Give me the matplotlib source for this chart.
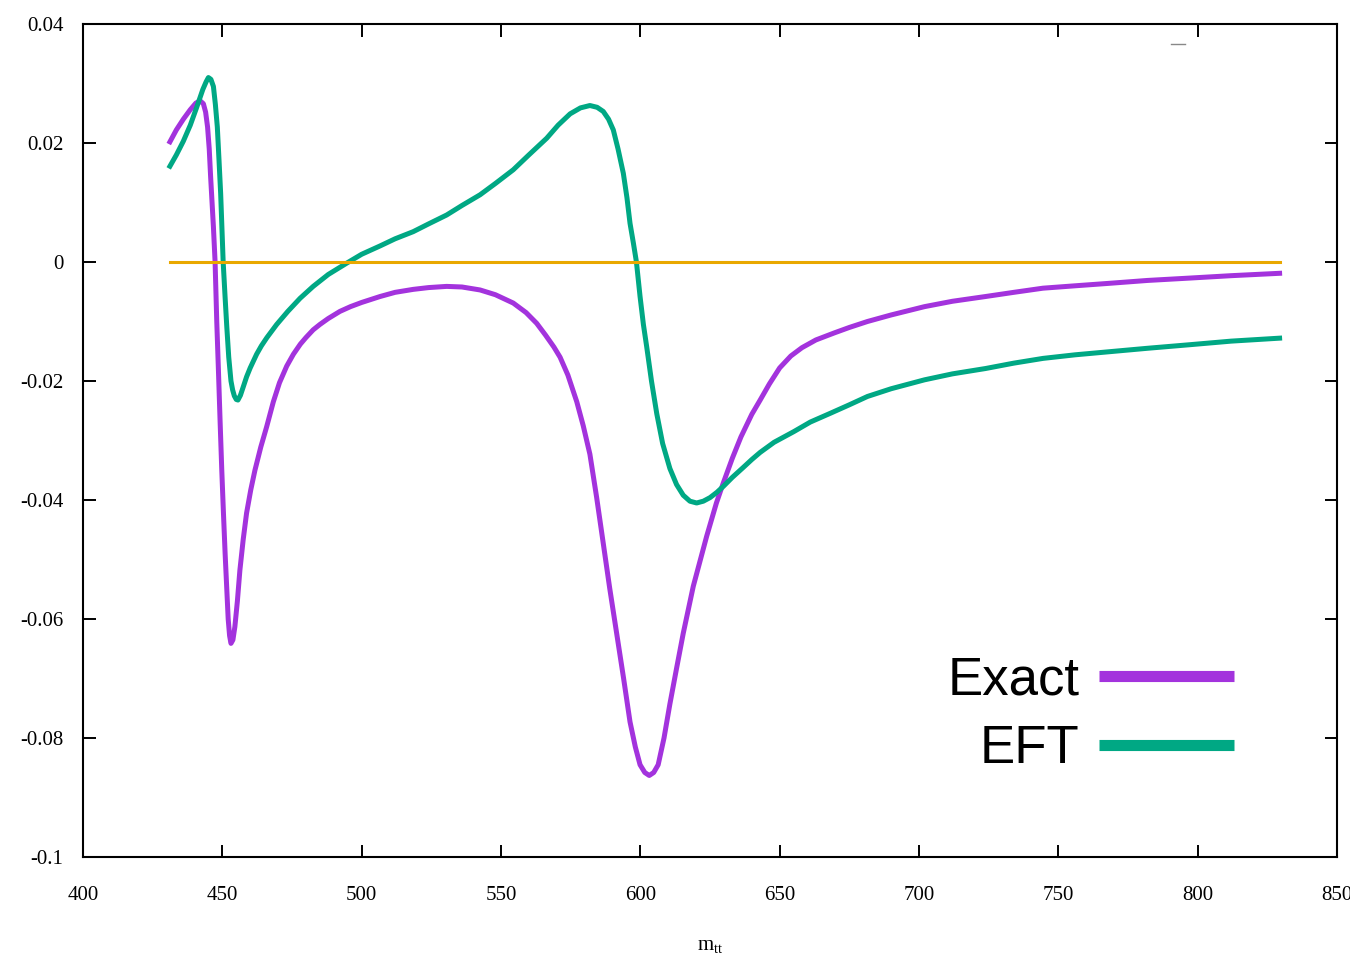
"""
Exact vs EFT interference curves against m_tt, gnuplot-like styling.
"""

import matplotlib

matplotlib.use("Agg")
import matplotlib.pyplot as plt


# values
exact_x = [431.2, 433.5, 436.0, 438.5, 440.5, 442.0, 443.2, 444.0, 444.7, 445.3,
           445.8, 446.8, 447.4, 448.0, 448.6, 449.2, 449.8, 450.4, 451.0, 451.6,
           452.1, 452.6, 453.1, 453.8, 454.5, 455.4, 456.3, 457.5, 458.7, 460.2,
           461.7, 463.8, 465.9, 468.3, 470.5, 473.1, 475.5, 478.0, 480.0, 482.6,
           485.0, 488.0, 492.2, 496.0, 500.0, 506.6, 512.0, 518.5, 524.0, 530.5,
           536.0, 542.5, 548.0, 554.4, 559.0, 562.8, 566.0, 569.0, 571.2, 574.0,
           577.2, 579.5, 581.9, 584.3, 586.7, 589.0, 591.5, 594.0, 596.3, 598.2,
           599.9, 601.6, 603.2, 604.8, 606.4, 608.5, 610.6, 613.0, 615.4, 619.0,
           623.8, 627.3, 629.8, 633.0, 636.1, 640.0, 643.0, 646.3, 650.0, 654.0,
           658.0, 663.0, 669.7, 675.0, 681.5, 690.0, 702.0, 712.0, 723.9, 734.0,
           744.5, 756.0, 767.8, 782.0, 797.2, 812.0, 829.4]
exact_y = [0.0202, 0.0222, 0.0240, 0.0256, 0.0267, 0.0271, 0.0266, 0.0252, 0.0227, 0.0190,
           0.0143, 0.0059, 0.0, -0.0100, -0.0182, -0.0268, -0.0350, -0.0422, -0.0490, -0.0550,
           -0.0600, -0.0628, -0.0641, -0.0635, -0.0613, -0.0570, -0.0518, -0.0466, -0.0422, -0.0383,
           -0.0350, -0.0311, -0.0277, -0.0235, -0.0203, -0.0175, -0.0155, -0.0138, -0.0127, -0.0114,
           -0.0105, -0.0095, -0.0083, -0.0075, -0.0068, -0.0058, -0.0051, -0.0046, -0.0043, -0.0041,
           -0.0042, -0.0047, -0.0055, -0.0069, -0.0085, -0.0103, -0.0123, -0.0143, -0.0160, -0.0190,
           -0.0235, -0.0275, -0.0323, -0.0395, -0.0473, -0.0548, -0.0624, -0.0700, -0.0773, -0.0815,
           -0.0845, -0.0858, -0.0863, -0.0858, -0.0845, -0.0800, -0.0743, -0.0683, -0.0624, -0.0545,
           -0.0461, -0.0405, -0.0371, -0.0330, -0.0294, -0.0256, -0.0232, -0.0205, -0.0178, -0.0158,
           -0.0144, -0.0131, -0.0119, -0.0110, -0.0100, -0.0089, -0.0075, -0.0066, -0.0058, -0.0051,
           -0.0044, -0.0040, -0.0036, -0.0031, -0.0027, -0.0023, -0.0019]

eft_x = [431.2, 433.5, 436.0, 438.5, 440.8, 443.0, 444.2, 445.0, 445.9, 446.8,
         447.5, 448.2, 448.8, 449.4, 450.3, 451.0, 451.6, 452.3, 453.1, 453.7,
         454.3, 455.0, 455.6, 456.5, 457.5, 458.7, 460.0, 462.3, 464.0, 466.0,
         469.5, 473.5, 477.9, 482.6, 488.0, 494.6, 500.0, 506.6, 512.0, 518.5,
         524.0, 530.5, 536.0, 542.5, 548.0, 554.4, 560.0, 566.4, 570.5, 574.8,
         578.5, 581.9, 584.5, 586.7, 588.6, 590.3, 592.0, 593.9, 595.2, 596.3,
         597.5, 598.6, 599.9, 601.1, 602.3, 604.0, 605.9, 608.0, 610.6, 613.0,
         615.4, 617.8, 620.2, 622.6, 625.0, 627.5, 629.8, 633.0, 637.0, 640.0,
         643.0, 648.0, 655.1, 661.0, 668.3, 675.0, 681.5, 690.0, 702.0, 712.0,
         723.9, 734.0, 744.5, 756.0, 767.8, 782.0, 797.2, 812.0, 829.4]
eft_y = [0.0161, 0.0180, 0.0203, 0.0230, 0.0260, 0.0290, 0.0303, 0.0310, 0.0307, 0.0295,
         0.0265, 0.0227, 0.0172, 0.0115, 0.0, -0.0060, -0.0109, -0.0160, -0.0200, -0.0215,
         -0.0225, -0.0231, -0.0232, -0.0224, -0.0210, -0.0193, -0.0178, -0.0155, -0.0141, -0.0127,
         -0.0105, -0.0083, -0.0061, -0.0041, -0.0021, -0.0002, 0.0013, 0.0027, 0.0039, 0.0051,
         0.0064, 0.0079, 0.0095, 0.0113, 0.0132, 0.0155, 0.0180, 0.0208, 0.0230, 0.0249,
         0.0259, 0.0263, 0.0260, 0.0253, 0.0240, 0.0222, 0.0190, 0.0149, 0.0108, 0.0065,
         0.0032, 0.0, -0.0058, -0.0105, -0.0143, -0.0200, -0.0255, -0.0305, -0.0347, -0.0374,
         -0.0392, -0.0402, -0.0405, -0.0402, -0.0396, -0.0387, -0.0377, -0.0362, -0.0345, -0.0332,
         -0.0320, -0.0303, -0.0285, -0.0269, -0.0254, -0.0240, -0.0226, -0.0213, -0.0198, -0.0188,
         -0.0179, -0.0170, -0.0162, -0.0156, -0.0151, -0.0145, -0.0139, -0.0133, -0.0128]

zero_x = [431.2, 829.4]
zero_y = [0.0, 0.0]

x_ticks = [400, 450, 500, 550, 600, 650, 700, 750, 800, 850]
y_ticks = [-0.1, -0.08, -0.06, -0.04, -0.02, 0, 0.02, 0.04]
y_tick_labels = ["-0.1", "-0.08", "-0.06", "-0.04", "-0.02", "0", "0.02", "0.04"]

PURPLE = "#a333dd"
GREEN = "#00a884"
ORANGE = "#e9a800"


def main() -> None:
    plt.rcParams["font.family"] = ["Liberation Serif", "DejaVu Serif"]

    fig = plt.figure(figsize=(13.5, 9.61), dpi=100)
    ax = fig.add_axes([83 / 1350, 104 / 961, 1254 / 1350, 833 / 961])

    ax.plot(exact_x, exact_y, color=PURPLE, linewidth=3.6, solid_joinstyle="round", label="Exact")
    ax.plot(eft_x, eft_y, color=GREEN, linewidth=3.6, solid_joinstyle="round", label="EFT")
    ax.plot(zero_x, zero_y, color=ORANGE, linewidth=2.2)

    ax.set_xlim(400, 850)
    ax.set_ylim(-0.1, 0.04)
    ax.set_xticks(x_ticks)
    ax.set_yticks(y_ticks)
    ax.set_yticklabels(y_tick_labels)
    ax.tick_params(direction="in", length=9, width=1.4, top=True, right=True,
                   labelsize=15, colors="black")
    ax.tick_params(axis="y", pad=14)
    ax.tick_params(axis="x", pad=21)
    for sp in ax.spines.values():
        sp.set_linewidth(1.5)

    ax.set_xlabel(r"$\mathregular{m_{tt}}$", fontsize=15, labelpad=22)

    # small grey key stub near the top right, as in the original
    ax.plot([0.868, 0.879], [0.976, 0.976], transform=ax.transAxes, color="#888888", linewidth=1.0)

    leg = ax.legend(loc="center right", bbox_to_anchor=(0.9175, 0.171), markerfirst=False,
                    frameon=False, borderpad=0, borderaxespad=0, handlelength=2.54,
                    handletextpad=0.38, labelspacing=0.36,
                    prop={"family": "Liberation Sans", "size": 38})
    for ln in leg.get_lines():
        ln.set_linewidth(8)
        ln.set_solid_capstyle("butt")

    fig.savefig("out.png", dpi=100)
    plt.close(fig)


if __name__ == "__main__":
    main()
